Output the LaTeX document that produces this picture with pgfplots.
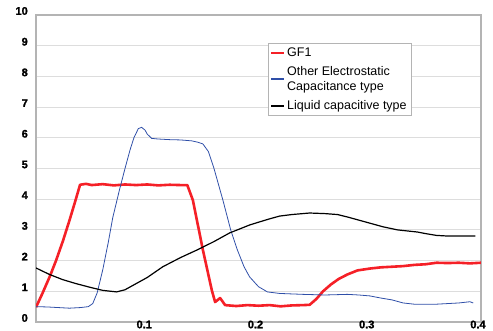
\documentclass[border=0pt]{standalone}
\usepackage{fontspec}
\setmainfont{Liberation Sans}
\newfontfamily\tickfont[FakeBold=1.5]{Liberation Sans}
\usepackage{pgfplots}
\pgfplotsset{compat=1.18}
\definecolor{gridc}{HTML}{DDDDDD}
\definecolor{framec}{HTML}{B4B4B4}
\definecolor{redc}{HTML}{F52027}
\definecolor{bluec}{HTML}{2F4FA8}
\begin{document}
\begin{tikzpicture}
\useasboundingbox (0,0) rectangle (493pt,331pt);
\begin{axis}[
  at={(36pt,9pt)}, anchor=south west,
  scale only axis, width=445pt, height=307pt,
  xmin=0, xmax=0.4, ymin=0, ymax=10,
  xtick={0.1,0.2,0.3,0.4}, ytick={0,1,...,10},
  xticklabels={{\tickfont\bfseries 0.1},{\tickfont\bfseries 0.2},{\tickfont\bfseries 0.3},{\tickfont\bfseries 0.4}},
  yticklabel={\tickfont\bfseries\pgfmathprintnumber{\tick}},
  major tick length=0pt,
  ymajorgrids, grid style={gridc, line width=0.8pt},
  axis line style={framec, line width=2.5pt},
  /pgf/number format/assume math mode=true,
  tick label style={font=\fontsize{11}{12}\selectfont},
  xticklabel style={anchor=center, yshift=-2.5pt, xshift=-3pt},
  yticklabel style={anchor=east, inner sep=0pt, xshift=-8pt, yshift=4pt},
  legend style={at={(0.521,0.909)}, anchor=north west, draw=framec, line width=0.6pt,
    fill=white, font=\fontsize{12.5}{15}\selectfont, cells={anchor=west, align=left},
    inner sep=2.5pt, row sep=4.5pt},
  legend image code/.code={\draw[#1, line width=1.5pt] (0pt,0pt) -- (13pt,0pt);},
]
\addplot[redc, line width=2.6pt, line join=round] coordinates {
(0,0.48) (0.006,0.95) (0.0126,1.5) (0.018,2.0) (0.0243,2.65) (0.03,3.3) (0.035,3.9) (0.0396,4.47)
(0.045,4.5) (0.05,4.46) (0.06,4.49) (0.07,4.45) (0.08,4.48) (0.09,4.46) (0.1,4.48) (0.11,4.45)
(0.12,4.47) (0.13,4.46) (0.136,4.46) (0.141,3.97) (0.150,2.35) (0.158,1.04) (0.161,0.65)
(0.1655,0.78) (0.17,0.55) (0.18,0.52) (0.19,0.55) (0.2,0.53) (0.21,0.55) (0.22,0.51) (0.23,0.54)
(0.24,0.55) (0.246,0.56) (0.252,0.75) (0.258,1.0) (0.265,1.22) (0.272,1.4) (0.28,1.55) (0.289,1.68)
(0.3,1.74) (0.31,1.78) (0.32,1.8) (0.33,1.82) (0.34,1.86) (0.35,1.88) (0.36,1.93) (0.37,1.92)
(0.38,1.93) (0.39,1.91) (0.4,1.93)};
\addlegendentry{GF1}
\addplot[bluec, line width=0.8pt] coordinates {
(0,0.5) (0.01,0.49) (0.02,0.47) (0.03,0.45) (0.04,0.47) (0.047,0.5) (0.051,0.6) (0.055,0.95)
(0.06,1.7) (0.065,2.6) (0.069,3.4) (0.075,4.3) (0.08,5.0) (0.0845,5.6) (0.088,6.0) (0.092,6.3)
(0.095,6.34) (0.098,6.25) (0.1,6.12) (0.104,5.98) (0.11,5.96) (0.12,5.94) (0.13,5.93) (0.14,5.9)
(0.145,5.86) (0.15,5.8) (0.155,5.55) (0.16,5.0) (0.168,3.97) (0.175,3.0) (0.181,2.35) (0.187,1.8)
(0.192,1.47) (0.2,1.15) (0.208,0.98) (0.219,0.93) (0.24,0.9) (0.26,0.88) (0.28,0.9) (0.29,0.88)
(0.3,0.85) (0.31,0.78) (0.32,0.72) (0.33,0.62) (0.34,0.58) (0.36,0.58) (0.37,0.6) (0.38,0.62)
(0.39,0.66) (0.393,0.62)};
\addlegendentry{Other Electrostatic\\Capacitance type}
\addplot[black, line width=1.2pt] coordinates {
(0,1.76) (0.012,1.55) (0.024,1.38) (0.036,1.25) (0.0486,1.13) (0.06,1.03) (0.0725,0.98)
(0.08,1.05) (0.09,1.25) (0.1,1.45) (0.114,1.8) (0.13,2.1) (0.145,2.35) (0.16,2.62) (0.174,2.9)
(0.183,3.03) (0.192,3.16) (0.2,3.25) (0.21,3.36) (0.219,3.45) (0.23,3.5) (0.246,3.55) (0.26,3.53)
(0.271,3.5) (0.28,3.42) (0.29,3.32) (0.3,3.22) (0.312,3.1) (0.325,3.0) (0.343,2.93) (0.35,2.88)
(0.36,2.82) (0.37,2.8) (0.38,2.8) (0.395,2.8)};
\addlegendentry{Liquid capacitive type}
\end{axis}
\end{tikzpicture}
\end{document}
